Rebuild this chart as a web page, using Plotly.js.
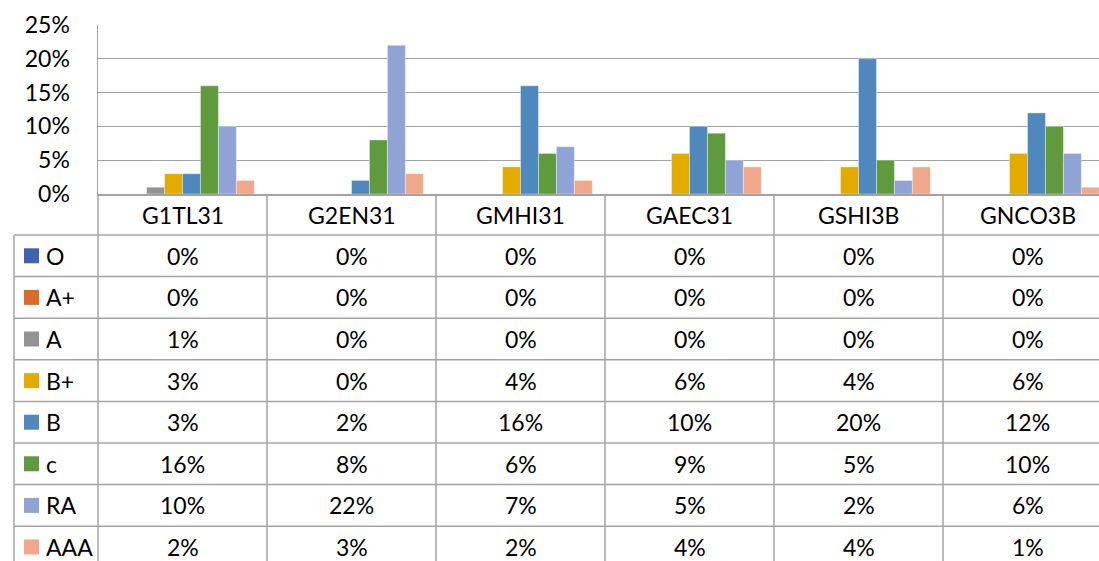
<!DOCTYPE html>
<html><head><meta charset="utf-8">
<script src="https://cdn.plot.ly/plotly-3.0.1.min.js"></script>
<style>html,body{margin:0;padding:0;background:#fff}#chart{width:1099px;height:561px}</style>
</head><body><div id="chart"></div>
<script>
// ---- data ----
const categories = ['G1TL31','G2EN31','GMHI31','GAEC31','GSHI3B','GNCO3B'];
const seriesNames = ['O','A+','A','B+','B','c','RA','AAA'];
const valuesO     = [0,0,0,0,0,0];
const valuesAplus = [0,0,0,0,0,0];
const valuesA     = [1,0,0,0,0,0];
const valuesBplus = [3,0,4,6,4,6];
const valuesB     = [3,2,16,10,20,12];
const valuesC     = [16,8,6,9,5,10];
const valuesRA    = [10,22,7,5,2,6];
const valuesAAA   = [2,3,2,4,4,1];
const seriesValues = [valuesO, valuesAplus, valuesA, valuesBplus, valuesB, valuesC, valuesRA, valuesAAA];
const seriesColors = ['#3F64AE','#DA6C28','#939393','#E3AA00','#4F88BD','#5F9A3E','#8FA4D5','#F0A88C'];
const yTickValues = [0,5,10,15,20,25];
const yTickLabels = ['0%','5%','10%','15%','20%','25%'];

// ---- geometry (pixels) ----
const W = 1099, H = 561;
const L = 98, T = 25, B = 194;
const plotW = W - L, plotH = B - T;
const CAT_W = 169;
const ROW_TOP = 235, ROW_H = 41.6;
const TABLE_LEFT = 14;
const LINE_COLOR = '#a3a3a3';
const FONT = 'Lato, "Open Sans", sans-serif';
const FS = 23;

const py = p => (B - p) / plotH;
const pxp = p => (p - L) / plotW;

const traces = seriesNames.map((name, s) => ({
  type: 'bar', name: name, x: categories, y: seriesValues[s],
  marker: {color: seriesColors[s], line: {color: 'rgba(255,255,255,0.45)', width: 0.8}},
  hoverinfo: 'x+y+name'
}));

const shapes = [];
const annotations = [];

// vertical table lines (category boundaries)
shapes.push({type:'line', xref:'paper', yref:'paper', x0:0, x1:0, y0:py(B), y1:py(H+10), line:{color:LINE_COLOR, width:1.5}});
for (let i = 1; i <= categories.length; i++) {
  shapes.push({type:'line', xref:'x', yref:'paper', x0:i-0.5, x1:i-0.5, y0:py(B), y1:py(H+10), line:{color:LINE_COLOR, width:1.5}});
}
// left border of the legend column
shapes.push({type:'line', xref:'paper', yref:'paper', x0:pxp(TABLE_LEFT), x1:pxp(TABLE_LEFT), y0:py(ROW_TOP), y1:py(H+10), line:{color:LINE_COLOR, width:1.5}});
// horizontal table lines
for (let k = 0; k <= seriesNames.length; k++) {
  const yy = ROW_TOP + ROW_H * k;
  shapes.push({type:'line', xref:'paper', yref:'paper', x0:pxp(TABLE_LEFT), x1:1, y0:py(yy), y1:py(yy), line:{color:LINE_COLOR, width:1.5}});
}

// header row: category names
categories.forEach(c => {
  annotations.push({xref:'x', yref:'paper', x:c, y:py((B + ROW_TOP) / 2), text:c, showarrow:false,
    xanchor:'center', yanchor:'middle', font:{family:FONT, size:FS, color:'#000'}});
});

// body rows
seriesNames.forEach((name, s) => {
  const cy = ROW_TOP + ROW_H * (s + 0.5);
  shapes.push({type:'rect', xref:'paper', yref:'paper', x0:pxp(24), x1:pxp(39), y0:py(cy - 7.5), y1:py(cy + 7.5),
    fillcolor: seriesColors[s], line:{width:0}});
  annotations.push({xref:'paper', yref:'paper', x:pxp(44), y:py(cy), text:name, showarrow:false,
    xanchor:'left', yanchor:'middle', font:{family:FONT, size:FS, color:'#000'}});
  categories.forEach((c, i) => {
    annotations.push({xref:'x', yref:'paper', x:c, y:py(cy), text:seriesValues[s][i] + '%', showarrow:false,
      xanchor:'center', yanchor:'middle', font:{family:FONT, size:FS, color:'#000'}});
  });
});

const layout = {
  width: W, height: H,
  margin: {l: L, r: 0, t: T, b: H - B, pad: 0},
  paper_bgcolor: '#fff', plot_bgcolor: '#fff',
  showlegend: false,
  barmode: 'group', bargap: 0.15, bargroupgap: 0,
  font: {family: FONT, size: FS, color: '#000'},
  xaxis: {
    type: 'category', categoryorder: 'array', categoryarray: categories,
    range: [-0.5, -0.5 + plotW / CAT_W],
    showticklabels: false, ticks: '', showgrid: false, zeroline: false,
    showline: true, linecolor: LINE_COLOR, linewidth: 1.5, fixedrange: true
  },
  yaxis: {
    range: [0, 25], tickvals: yTickValues, ticktext: yTickLabels,
    ticks: '', ticklabelstandoff: 22,
    showgrid: true, gridcolor: LINE_COLOR, gridwidth: 1.3,
    zeroline: false, showline: true, linecolor: LINE_COLOR, linewidth: 1.5,
    tickfont: {family: FONT, size: FS, color: '#000'}, fixedrange: true
  },
  shapes: shapes,
  annotations: annotations
};

Plotly.newPlot('chart', traces, layout, {displayModeBar: false, staticPlot: true});
</script>
</body></html>
